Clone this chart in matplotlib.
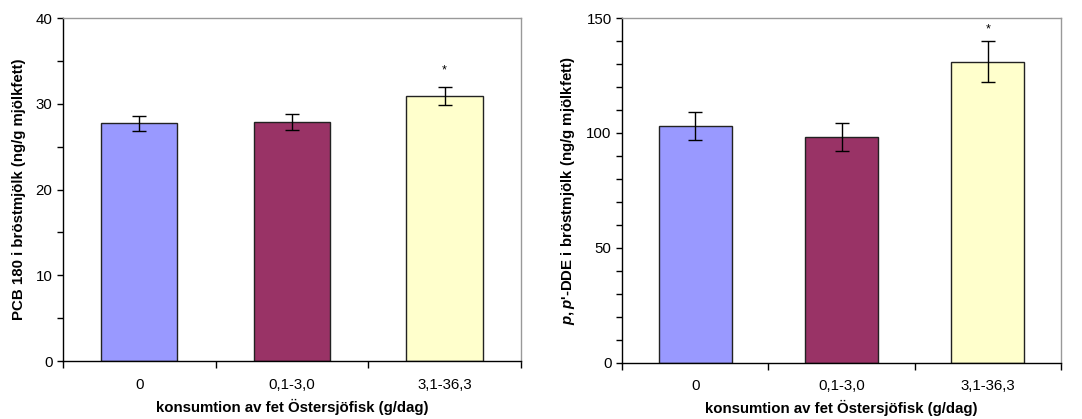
import matplotlib.pyplot as plt
from matplotlib.ticker import MultipleLocator, FixedLocator
import numpy as np

plt.rcParams['font.family'] = ['Liberation Sans', 'DejaVu Sans']
plt.rcParams['mathtext.fontset'] = 'custom'
plt.rcParams['mathtext.it'] = 'Liberation Sans:bold:italic'
plt.rcParams['mathtext.rm'] = 'Liberation Sans:bold'

# data
categories = ["0", "0,1-3,0", "3,1-36,3"]
pcb180 = [27.7, 27.9, 30.9]
pcb180_err = [0.85, 0.95, 1.1]
dde = [103.0, 98.3, 131.0]
dde_err = [6.0, 6.0, 9.0]
significant = [False, False, True]

colors = ["#9999FF", "#993366", "#FFFFCC"]
xlabel = "konsumtion av fet Östersjöfisk (g/dag)"
fs = 10.8


def bar_panel(ax, values, errors, ymax, major, minor, ylabel, star_gap):
    x = np.arange(len(categories))
    ax.bar(x, values, width=0.5, color=colors, edgecolor="#222222", linewidth=1.0, zorder=2)
    ax.errorbar(x, values, yerr=errors, fmt="none", ecolor="black",
                elinewidth=1.0, capsize=5, capthick=1.0, zorder=3)
    # mark significant groups with a star above the error bar
    for xi, v, e, s in zip(x, values, errors, significant):
        if s:
            ax.text(xi, v + e + star_gap, "*", ha="center", va="center", fontsize=9)

    ax.set_xlim(-0.5, len(categories) - 0.5)
    ax.set_ylim(0, ymax)
    ax.set_xticks(x)
    ax.set_xticklabels(categories, fontsize=fs)
    ax.xaxis.set_minor_locator(FixedLocator(np.arange(len(categories) + 1) - 0.5))
    ax.tick_params(axis="x", which="major", length=0, pad=12)
    ax.tick_params(axis="x", which="minor", length=5, width=1.0, direction="out")
    ax.yaxis.set_major_locator(MultipleLocator(major))
    ax.yaxis.set_minor_locator(MultipleLocator(minor))
    ax.tick_params(axis="y", which="both", length=4, width=1.0, direction="out", labelsize=fs)

    ax.spines["left"].set_color("black")
    ax.spines["bottom"].set_color("black")
    ax.spines["top"].set_color("#999999")
    ax.spines["right"].set_color("#999999")
    for sp in ax.spines.values():
        sp.set_linewidth(1.0)

    ax.set_xlabel(xlabel, fontsize=fs, fontweight="bold", labelpad=5)
    ax.set_ylabel(ylabel, fontsize=fs, fontweight="bold", labelpad=7)


fig = plt.figure(figsize=(10.82, 4.19), dpi=100)
ax1 = fig.add_axes([0.0582, 0.1384, 0.4233, 0.8186])
ax2 = fig.add_axes([0.5749, 0.1344, 0.4057, 0.8226])

bar_panel(ax1, pcb180, pcb180_err, 40, 10, 5,
          "PCB 180 i bröstmjölk (ng/g mjölkfett)", 1.9)
bar_panel(ax2, dde, dde_err, 150, 50, 10,
          r"$p,p$'-DDE i bröstmjölk (ng/g mjölkfett)", 5.0)

fig.savefig("out.png", dpi=100)
